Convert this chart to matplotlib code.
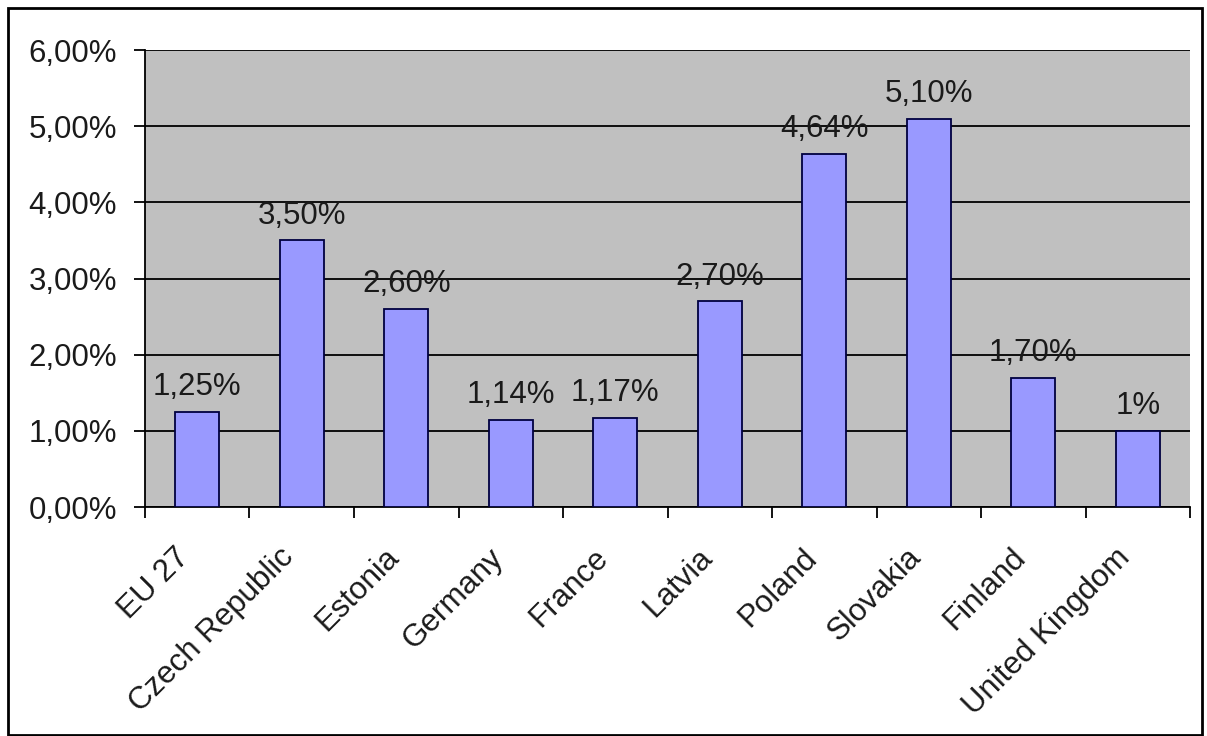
import matplotlib
matplotlib.use("Agg")
import matplotlib.pyplot as plt
from matplotlib.patches import Rectangle
from matplotlib.ticker import FixedLocator, FuncFormatter
from matplotlib.transforms import ScaledTranslation

countries = ["EU 27", "Czech Republic", "Estonia", "Germany", "France",
             "Latvia", "Poland", "Slovakia", "Finland", "United Kingdom"]
values = [1.25, 3.50, 2.60, 1.14, 1.17, 2.70, 4.64, 5.10, 1.70, 1.00]
labels = ["1,25%", "3,50%", "2,60%", "1,14%", "1,17%",
          "2,70%", "4,64%", "5,10%", "1,70%", "1%"]

plt.rcParams['font.family'] = ['Liberation Sans', 'DejaVu Sans']
fs = 22.5

fig = plt.figure(figsize=(12.07, 7.36), dpi=100)
ax = fig.add_axes([0.1201, 0.3111, 0.986 - 0.1201, 0.932 - 0.3111])
ax.set_facecolor('#c0c0c0')

x = list(range(len(countries)))
ax.bar(x, values, width=0.42, color='#9999ff', edgecolor='#000040',
       linewidth=1.3, zorder=3)

for xi, v, lab in zip(x, values, labels):
    ax.annotate(lab, (xi, v), xytext=(0, 7), textcoords='offset points',
                ha='center', va='bottom', fontsize=fs, color='#1a1a1a')

ax.set_xlim(-0.5, len(countries) - 0.5)
ax.set_ylim(0, 6)
ax.yaxis.set_major_locator(FixedLocator([0, 1, 2, 3, 4, 5, 6]))
ax.yaxis.set_major_formatter(FuncFormatter(lambda v, p: ("%.2f%%" % v).replace('.', ',')))
ax.grid(axis='y', color='black', linewidth=1.3, zorder=1)
ax.set_axisbelow(True)

# tick marks sit between categories, names are placed under each bar
ax.set_xticks([i - 0.5 for i in range(len(countries) + 1)])
ax.set_xticklabels([])
lab_tr = ax.get_xaxis_transform() + ScaledTranslation(-12 / 100, -46 / 100, fig.dpi_scale_trans)
for xi, name in zip(x, countries):
    ax.text(xi, 0, name, transform=lab_tr, rotation=45, ha='right', va='center',
            rotation_mode='anchor', fontsize=fs, color='#1a1a1a')

ax.tick_params(axis='x', which='major', length=8, width=1.3, direction='out')
ax.tick_params(axis='y', length=8, width=1.3, direction='out',
               labelsize=fs, labelcolor='#1a1a1a', pad=12)

for s in ['top', 'right']:
    ax.spines[s].set_visible(False)
for s in ['left', 'bottom']:
    ax.spines[s].set_linewidth(1.3)
    ax.spines[s].set_color('black')

fig.patches.append(Rectangle((8 / 1207, 0.002), 1194 / 1207, 1 - 8 / 736 - 0.002,
                             transform=fig.transFigure, fill=False,
                             edgecolor='black', linewidth=2))

fig.savefig("out.png", dpi=100)
